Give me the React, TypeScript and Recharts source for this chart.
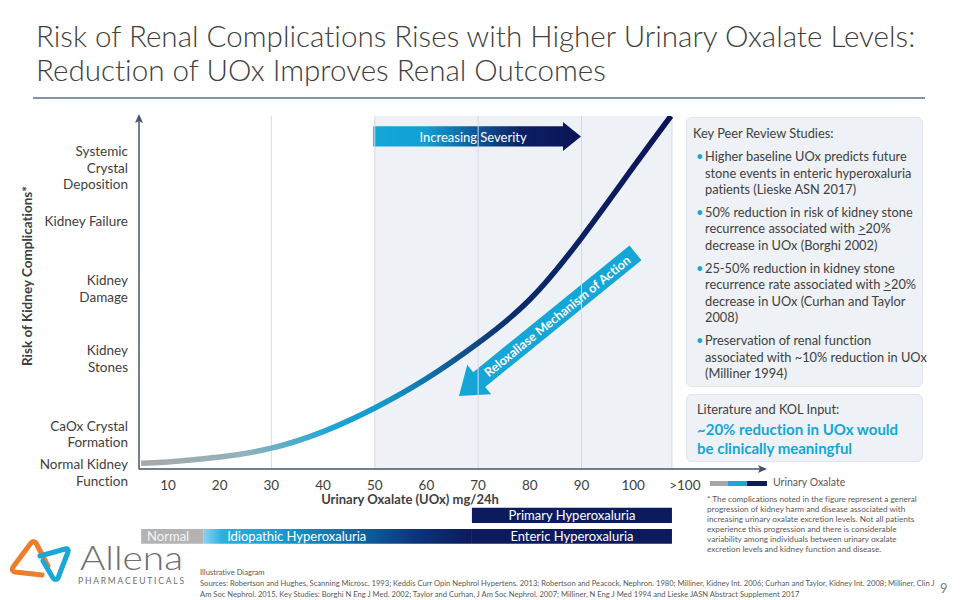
import React from 'react';
import {
  ComposedChart,
  Line,
  XAxis,
  YAxis,
  ReferenceArea,
  ReferenceLine,
  ReferenceDot,
} from 'recharts';

const FONT = 'Lato, "Noto Sans", sans-serif';
const INK = '#404040';
const NAVY = '#0c1a5e';
const CYAN = '#14a6d7';
const AXIS = '#44546a';

// risk curve (UOx mg/24h -> relative risk 0..100)
const uoxLevels = [4.8, 10, 20, 30, 40, 50, 60, 70, 80, 90, 100, 107.3];
const riskLevels = [1.6, 2.0, 3.4, 5.9, 10.6, 17.3, 25.6, 35.7, 48.0, 65.5, 85.5, 100];

const xTicks = [10, 20, 30, 40, 50, 60, 70, 80, 90, 100, 110];
const xTickLabels = ['10', '20', '30', '40', '50', '60', '70', '80', '90', '100', '>100'];
const gridLines = [30, 50, 70, 90, 107.5];

const complicationTicks = [85.3, 70.3, 51.1, 31.3, 9.9, -1.0];
const complicationLabels = [
  ['Systemic', 'Crystal', 'Deposition'],
  ['Kidney Failure'],
  ['Kidney', 'Damage'],
  ['Kidney', 'Stones'],
  ['CaOx Crystal', 'Formation'],
  ['Normal Kidney', 'Function'],
];

// UOx ranges of the shaded zone, arrows and patient groups
const shadedRange = [50, 107.5];
const severityRange = [49.7, 89.9];
const mechanismRange = [66.3, 101.7];
const normalRange = [4.8, 16.8];
const idiopathicRange = [16.8, 68.8];
const entericRange = [68.8, 107.5];
const primaryRange = [68.8, 107.5];

const curveData = uoxLevels.map((u, i) => ({ uox: u, risk: riskLevels[i] }));

function ComplicationTick(props: any) {
  const { x, y, payload } = props;
  const idx = complicationTicks.indexOf(payload.value);
  const lines = complicationLabels[idx] ?? [];
  const lh = 16.5;
  const y0 = y - ((lines.length - 1) * lh) / 2;
  return (
    <text x={x} y={y0} textAnchor="end" fill={INK} fontSize={13.5} fontFamily={FONT} dominantBaseline="central">
      {lines.map((l, i) => (
        <tspan key={i} x={x} dy={i === 0 ? 0 : lh}>{l}</tspan>
      ))}
    </text>
  );
}

function SeverityArrow(props: any) {
  const { x, y, width, height } = props;
  const head = 18;
  const inset = height * 0.15;
  const bodyEnd = x + width - head;
  const midY = y + height / 2;
  const pts = [
    [x, y + inset], [bodyEnd, y + inset], [bodyEnd, y], [x + width, midY],
    [bodyEnd, y + height], [bodyEnd, y + height - inset], [x, y + height - inset],
  ];
  return (
    <g>
      <polygon points={pts.map(p => p.join(',')).join(' ')} fill="url(#severityGrad)" />
      <text x={x + (width - head) / 2 + 5} y={midY + 1} textAnchor="middle" dominantBaseline="central"
        fill="#fff" fontSize={13} fontFamily={FONT}>Increasing Severity</text>
    </g>
  );
}

function MechanismArrow(props: any) {
  const { x, y, width, height } = props;
  const tail = { x: x + width - 6.5, y: y + 7 };
  const tip = { x, y: y + height };
  const dx = tip.x - tail.x;
  const dy = tip.y - tail.y;
  const len = Math.hypot(dx, dy);
  const ang = (Math.atan2(dy, dx) * 180) / Math.PI;
  const head = 26, half = 9.5, headHalf = 19;
  const pts = `0,${-half} ${len - head},${-half} ${len - head},${-headHalf} ${len},0 ${len - head},${headHalf} ${len - head},${half} 0,${half}`;
  const mid = (len - head) / 2;
  return (
    <g transform={`translate(${tail.x},${tail.y}) rotate(${ang})`}>
      <polygon points={pts} fill={CYAN} />
      <text x={mid} y={0} transform={`rotate(180 ${mid} 0)`} textAnchor="middle" dominantBaseline="central"
        fill="#fff" fontWeight={700} fontSize={12.6} fontFamily={FONT}>Reloxaliase Mechanism of Action</text>
    </g>
  );
}

const UpHead = (p: any) => <path d={`M${p.cx},${p.cy - 2} L${p.cx - 4},${p.cy + 7} L${p.cx},${p.cy + 5} L${p.cx + 4},${p.cy + 7} Z`} fill={AXIS} />;
const RightHead = (p: any) => <path d={`M${p.cx + 2},${p.cy} L${p.cx - 7},${p.cy - 4} L${p.cx - 5},${p.cy} L${p.cx - 7},${p.cy + 4} Z`} fill={AXIS} />;

const abs = (s: React.CSSProperties): React.CSSProperties => ({ position: 'absolute', ...s });

const bullets: React.ReactNode[][] = [
  ['Higher baseline UOx predicts future', 'stone events in enteric hyperoxaluria', 'patients (Lieske ASN 2017)'],
  ['50% reduction in risk of kidney stone', <>recurrence associated with <u>&gt;</u>20%</>, 'decrease in UOx (Borghi 2002)'],
  ['25-50% reduction in kidney stone', <>recurrence rate associated with <u>&gt;</u>20%</>, 'decrease in UOx (Curhan and Taylor', '2008)'],
  ['Preservation of renal function', 'associated with ~10% reduction in UOx', '(Milliner 1994)'],
];

const footnote = [
  '* The complications noted in the figure represent a general',
  'progression of kidney harm and disease associated with',
  'increasing urinary oxalate excretion levels. Not all patients',
  'experience this progression and there is considerable',
  'variability among individuals between urinary oxalate',
  'excretion levels and kidney function and disease.',
];

const sources = [
  'Illustrative Diagram',
  'Sources: Robertson and Hughes, Scanning Microsc. 1993; Keddis Curr Opin Nephrol Hypertens. 2013; Robertson and Peacock, Nephron. 1980; Milliner, Kidney Int. 2006; Curhan and Taylor, Kidney Int. 2008; Milliner, Clin J',
  'Am Soc Nephrol. 2015. Key Studies: Borghi N Eng J Med. 2002; Taylor and Curhan, J Am Soc Nephrol. 2007; Milliner, N Eng J Med 1994 and Lieske JASN Abstract Supplement 2017',
];

function Logo() {
  return (
    <svg width={190} height={64} style={abs({ left: 0, top: 534 })}>
      <path d="M48 32 L36 9 Q34 6 31 9 L13 33 Q11 37 15 38 L42 41" fill="none" stroke="#ee7d2b" strokeWidth={5} strokeLinecap="round" strokeLinejoin="round" />
      <path d="M40 22 L65 15 Q69 14 68 18 L58 44 Q56 47 53 44 L43 27" fill="none" stroke="#1ba6d6" strokeWidth={5} strokeLinecap="round" strokeLinejoin="round" />
      <text x={80} y={36} fontSize={34} fontWeight={300} fill="#6d6e71" fontFamily={FONT} textLength={103} lengthAdjust="spacingAndGlyphs">Allena</text>
      <text x={78} y={50} fontSize={8.5} fill="#6d6e71" fontFamily={FONT} textLength={106} lengthAdjust="spacing">PHARMACEUTICALS</text>
    </svg>
  );
}

export default function App() {
  return (
    <div style={abs({ left: 0, top: 0, width: 960, height: 600, background: '#fff', fontFamily: FONT, color: INK, overflow: 'hidden', fontVariantLigatures: 'none' })}>
      {/* title */}
      <div style={abs({ left: 36, top: 19, fontSize: 29.6, fontWeight: 300, lineHeight: '34px', whiteSpace: 'nowrap', color: INK })}>
        Risk of Renal Complications Rises with Higher Urinary Oxalate Levels:<br />
        Reduction of UOx Improves Renal Outcomes
      </div>
      <div style={abs({ left: 33, top: 97, width: 892, height: 2, background: '#8294a8' })} />

      <ComposedChart
        width={960}
        height={600}
        data={curveData}
        margin={{ top: 116, right: 195, bottom: 101, left: 19 }}
        style={{ position: 'absolute', left: 0, top: 0 }}
      >
        <defs>
          <linearGradient id="curveGrad" x1="0" y1="0" x2="1" y2="0">
            <stop offset="0" stopColor="#a8a8a8" />
            <stop offset="0.2" stopColor="#8fb2bf" />
            <stop offset="0.36" stopColor="#1ca6d6" />
            <stop offset="0.47" stopColor="#1594c6" />
            <stop offset="0.58" stopColor="#0f5f98" />
            <stop offset="0.7" stopColor="#0c2c6c" />
            <stop offset="1" stopColor="#0b1458" />
          </linearGradient>
          <linearGradient id="severityGrad" x1="0" y1="0" x2="1" y2="0">
            <stop offset="0" stopColor="#13a7d8" />
            <stop offset="0.25" stopColor="#12a0d2" />
            <stop offset="0.5" stopColor="#0d5796" />
            <stop offset="0.72" stopColor="#0b1f62" />
            <stop offset="1" stopColor="#0a1457" />
          </linearGradient>
          <linearGradient id="idioGrad" x1="0" y1="0" x2="1" y2="0">
            <stop offset="0" stopColor="#8dd3ef" />
            <stop offset="0.07" stopColor="#2cb0e0" />
            <stop offset="0.25" stopColor="#17a1d6" />
            <stop offset="0.55" stopColor="#0f6aa8" />
            <stop offset="0.8" stopColor="#0c3378" />
            <stop offset="1" stopColor={NAVY} />
          </linearGradient>
        </defs>

        <XAxis
          type="number"
          dataKey="uox"
          domain={[4.39, 125.5]}
          allowDataOverflow
          ticks={xTicks}
          interval={0}
          tickFormatter={(v: number) => xTickLabels[xTicks.indexOf(v)]}
          tick={{ fill: INK, fontSize: 13.5, fontFamily: FONT }}
          tickLine={false}
          tickMargin={5}
          axisLine={{ stroke: AXIS, strokeWidth: 1.5 }}
          height={30}
        />
        <YAxis
          type="number"
          domain={[0, 100]}
          allowDataOverflow
          ticks={complicationTicks}
          interval={0}
          tick={<ComplicationTick />}
          tickLine={false}
          tickMargin={5}
          axisLine={{ stroke: AXIS, strokeWidth: 1.5 }}
          width={120}
        />

        <ReferenceArea x1={shadedRange[0]} x2={shadedRange[1]} y1={0} y2={100} fill="#eef2f6" fillOpacity={1} stroke="none" />
        {gridLines.map(g => (
          <ReferenceLine key={g} x={g} stroke="#d6dbe1" strokeWidth={1} />
        ))}

        <ReferenceArea x1={severityRange[0]} x2={severityRange[1]} y1={90.1} y2={98.3} shape={SeverityArrow} />
        <ReferenceArea x1={mechanismRange[0]} x2={mechanismRange[1]} y1={20.7} y2={63.2} shape={MechanismArrow} />

        <Line
          type="natural"
          dataKey="risk"
          stroke="url(#curveGrad)"
          strokeWidth={5.5}
          dot={false}
          activeDot={false}
          isAnimationActive={false}
        />

        {/* patient population bars under the axis */}
        <ReferenceArea x1={primaryRange[0]} x2={primaryRange[1]} y1={-15.3} y2={-11.0} ifOverflow="visible"
          fill={NAVY} fillOpacity={1}
          label={{ value: 'Primary Hyperoxaluria', position: 'center', fill: '#fff', fontSize: 13, fontFamily: FONT }} />
        <ReferenceArea x1={normalRange[0]} x2={normalRange[1]} y1={-21.2} y2={-17.0} ifOverflow="visible"
          fill="#b3b3b3" fillOpacity={1}
          label={{ value: 'Normal', position: 'insideLeft', offset: 6, fill: '#f4f4f4', fontSize: 13, fontFamily: FONT }} />
        <ReferenceArea x1={idiopathicRange[0]} x2={idiopathicRange[1]} y1={-21.2} y2={-17.0} ifOverflow="visible"
          fill="url(#idioGrad)" fillOpacity={1}
          label={{ value: 'Idiopathic Hyperoxaluria', position: 'insideLeft', offset: 24, fill: '#fff', fontSize: 13, fontFamily: FONT }} />
        <ReferenceArea x1={entericRange[0]} x2={entericRange[1]} y1={-21.2} y2={-17.0} ifOverflow="visible"
          fill={NAVY} fillOpacity={1}
          label={{ value: 'Enteric Hyperoxaluria', position: 'center', fill: '#fff', fontSize: 13, fontFamily: FONT }} />

        <ReferenceDot x={4.39} y={100} r={0} ifOverflow="visible" shape={UpHead} />
        <ReferenceDot x={125.5} y={0} r={0} ifOverflow="visible" shape={RightHead} />
      </ComposedChart>

      {/* axis titles */}
      <div style={abs({ left: 310, top: 491, width: 200, textAlign: 'center', fontSize: 13, fontWeight: 700, whiteSpace: 'nowrap' })}>
        Urinary Oxalate (UOx) mg/24h
      </div>
      <div style={abs({ left: 27, top: 276, transform: 'translate(-50%, -50%) rotate(-90deg)', fontSize: 13.5, fontWeight: 700, whiteSpace: 'nowrap' })}>
        Risk of Kidney Complications*
      </div>

      {/* key studies panel */}
      <div style={abs({ left: 686, top: 117, width: 237, height: 270, background: '#eef2f6', border: '1px solid #dfe5eb', borderRadius: 6, boxSizing: 'border-box', padding: '7px 0 0 6px', fontSize: 12.8, lineHeight: '16.3px', whiteSpace: 'nowrap' })}>
        <div>Key Peer Review Studies:</div>
        {bullets.map((lines, i) => (
          <div key={i} style={{ position: 'relative', paddingLeft: 12, marginTop: 7 }}>
            <span style={{ position: 'absolute', left: 3, top: 0, color: CYAN }}>•</span>
            {lines.map((l, j) => <div key={j}>{l}</div>)}
          </div>
        ))}
      </div>

      <div style={abs({ left: 686, top: 394, width: 237, height: 68, background: '#eef2f6', border: '1px solid #dfe5eb', borderRadius: 6, boxSizing: 'border-box', padding: '6px 0 0 10px', whiteSpace: 'nowrap' })}>
        <div style={{ fontSize: 12.8, lineHeight: '16px' }}>Literature and KOL Input:</div>
        <div style={{ fontSize: 15, lineHeight: '19px', fontWeight: 700, color: CYAN, marginTop: 3 }}>
          ~20% reduction in UOx would<br />be clinically meaningful
        </div>
      </div>

      {/* legend beside the axis end */}
      <div style={abs({ left: 710, top: 481, width: 18, height: 5, background: '#a6a6a6' })} />
      <div style={abs({ left: 728, top: 481, width: 19, height: 5, background: '#1ba6d6' })} />
      <div style={abs({ left: 747, top: 481, width: 20, height: 5, background: NAVY })} />
      <div style={abs({ left: 773, top: 476, fontSize: 10.5, color: '#595959', whiteSpace: 'nowrap' })}>Urinary Oxalate</div>

      {/* footnote */}
      <div style={abs({ left: 707, top: 494, fontSize: 8.2, lineHeight: '10px', color: '#595959', whiteSpace: 'nowrap' })}>
        {footnote.map((l, i) => <div key={i}>{l}</div>)}
      </div>

      <Logo />

      <div style={abs({ left: 200, top: 567, fontSize: 7.6, lineHeight: '11px', color: '#595959', whiteSpace: 'nowrap' })}>
        {sources.map((l, i) => <div key={i}>{l}</div>)}
      </div>
      <div style={abs({ left: 940, top: 580, fontSize: 13, color: '#7f7f7f' })}>9</div>
    </div>
  );
}
